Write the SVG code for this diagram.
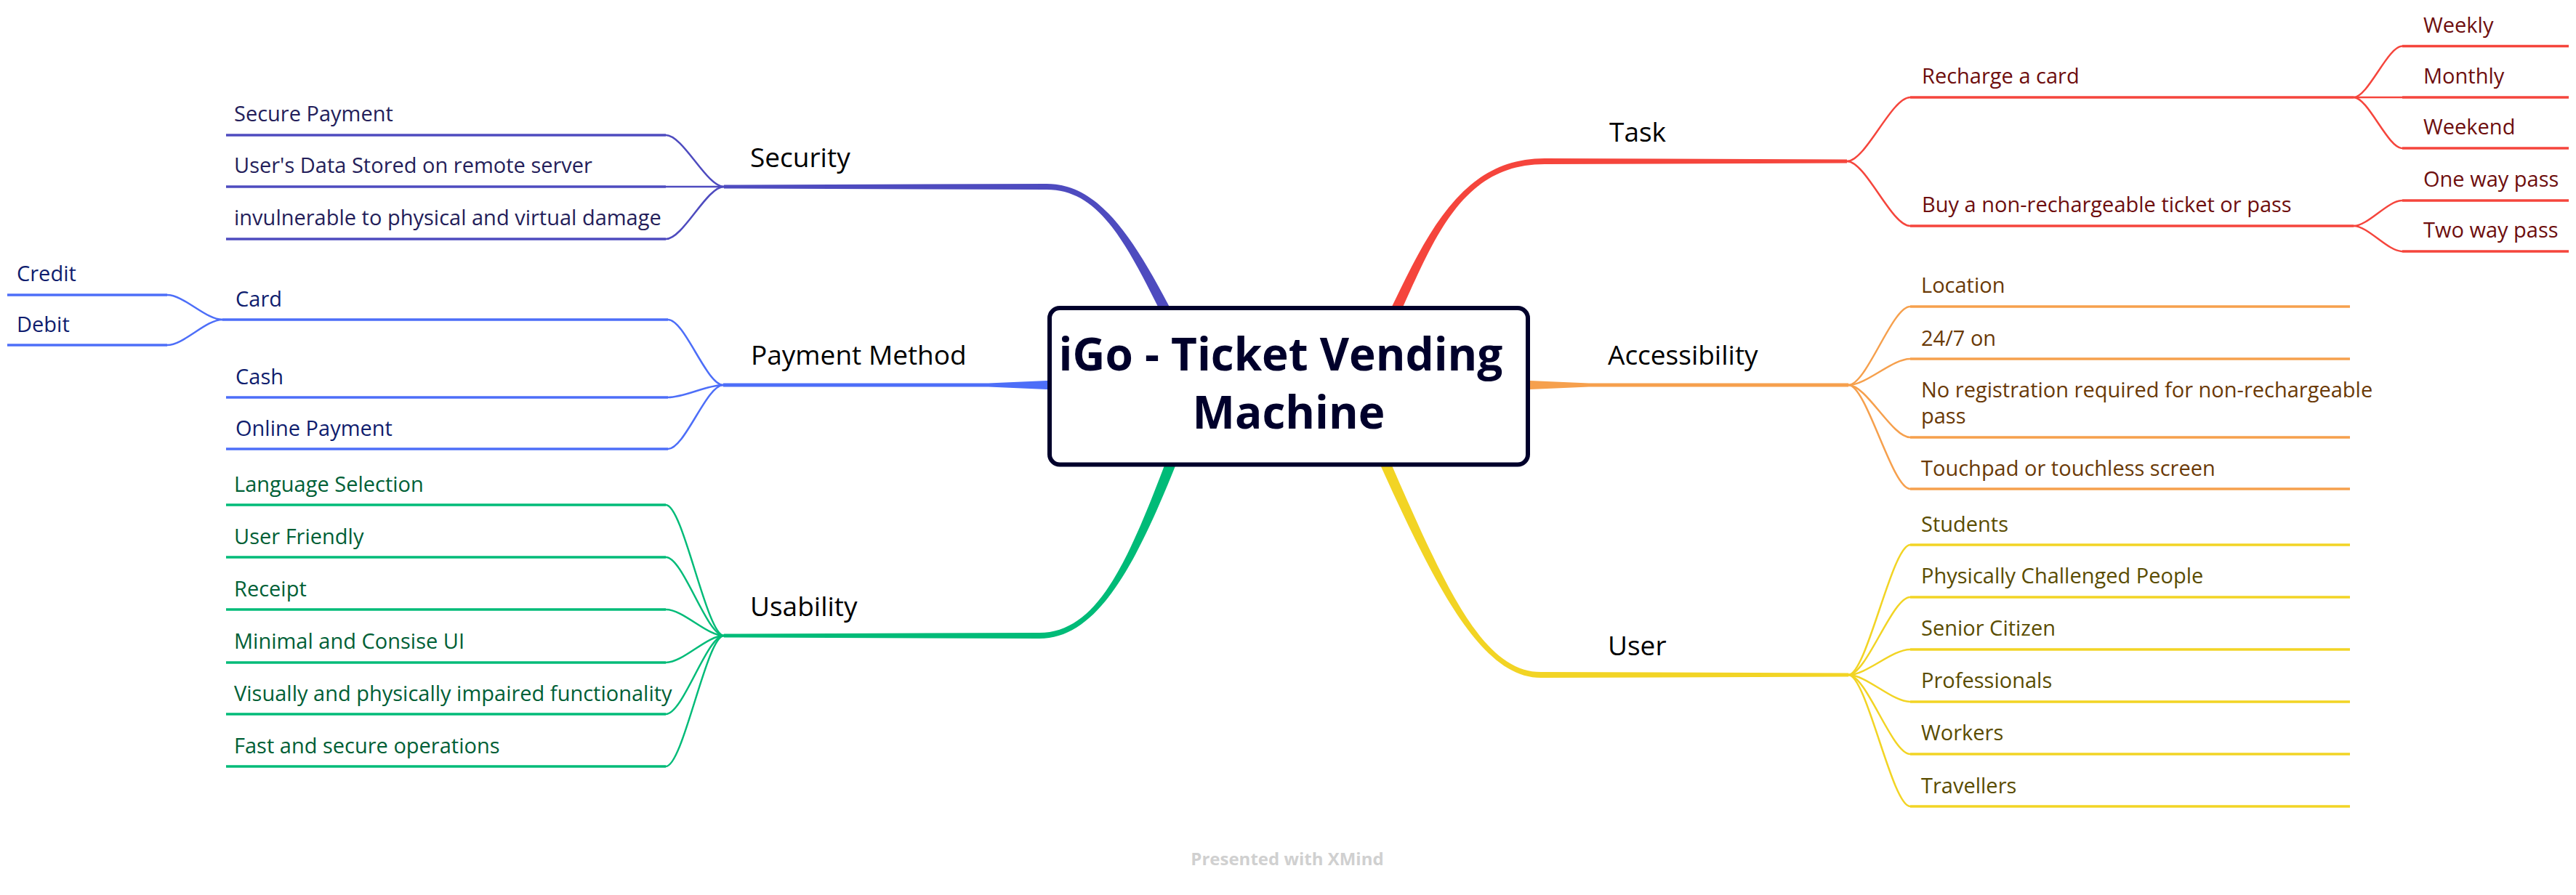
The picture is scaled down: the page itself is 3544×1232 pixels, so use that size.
<svg xmlns="http://www.w3.org/2000/svg" width="3544" height="1232" viewBox="0 0 3544 1232">
<style>
text{font-family:"Open Sans","Noto Sans","Liberation Sans",sans-serif}
.lbl{font-size:29px}
.main{font-size:37px;fill:#000}
.title{font-size:62px;font-weight:700;fill:#00002b}
.wm{font-size:24px;font-weight:700;fill:#d0d0d0}
.ul{fill:none;stroke-width:3.5;stroke-linecap:butt}
.cn{fill:none;stroke-width:2.5}
.sec{stroke:#4e4bbf}.pay{stroke:#4d6ef8}.use{stroke:#00bb78}.task{stroke:#f5453c}.acc{stroke:#f6a04d}.usr{stroke:#f2d424}
.tsec{fill:#241e5a}.tpay{fill:#0f1d6e}.tuse{fill:#005f36}.ttask{fill:#6e0e0e}.tacc{fill:#6a3906}.tusr{fill:#5a4c00}
</style>
<rect width="3544" height="1232" fill="#fff"/>
<g id="connectors">
  <path fill="#4e4bbf" d="M1636.7,476.6 C1569.3,342.9 1520,253 1440,253 L996,254.5 L996,259.5 L1440,261 C1520,261 1556.7,349.1 1623.3,483.4 Z"/>
  <path fill="#4d6ef8" d="M1500,523 L1440,524 L1360,527.5 L995,527.5 L995,532.5 L1360,532.5 L1440,536 L1500,537 Z"/>
  <path fill="#00bb78" d="M1626,577.3 C1562.5,745.5 1520,871 1430,871 L996,872.5 L996,877.5 L1430,879 C1520,879 1575.5,750.5 1640,582.7 Z"/>
  <path fill="#f5453c" d="M1901.7,483.4 C1964.3,358.2 1995,226 2125,226 L2541,224.5 L2541,219.5 L2125,218 C1995,218 1951.8,351.9 1888.3,476.6 Z"/>
  <path fill="#f6a04d" d="M2050,523 L2105,524 L2186,527.5 L2543,527.5 L2543,532.5 L2186,532.5 L2105,536 L2050,537 Z"/>
  <path fill="#f2d424" d="M1873.2,583.1 C1963.6,783.9 2030,933 2120,933 L2543,931.5 L2543,926.5 L2120,925 C2030,925 1976.4,778.1 1886.8,576.9 Z"/>
  <path class="cn sec" d="M916,186 C940,186 972,257 996,257"/>
  <path class="cn sec" d="M916,257 L996,257"/>
  <path class="cn sec" d="M916,329 C940,329 972,257 996,257"/>
  <path class="cn pay" d="M919,440 C942,440 972,530 995,530"/>
  <path class="cn pay" d="M919,547 C942,547 972,530 995,530"/>
  <path class="cn pay" d="M919,618 C942,618 972,530 995,530"/>
  <path class="cn pay" d="M230,406 C253,406 283,440 306,440"/>
  <path class="cn pay" d="M230,475 C253,475 283,440 306,440"/>
  <path class="cn use" d="M916,695 C940,695 972,875 996,875"/>
  <path class="cn use" d="M916,767 C940,767 972,875 996,875"/>
  <path class="cn use" d="M916,839 C940,839 972,875 996,875"/>
  <path class="cn use" d="M916,912 C940,912 972,875 996,875"/>
  <path class="cn use" d="M916,983 C940,983 972,875 996,875"/>
  <path class="cn use" d="M916,1055 C940,1055 972,875 996,875"/>
  <path class="cn task" d="M2541,222 C2567,222 2602,134 2628,134"/>
  <path class="cn task" d="M2541,222 C2567,222 2602,311 2628,311"/>
  <path class="cn task" d="M3238,134 C3258,134 3285,63.5 3305,63.5"/>
  <path class="cn task" d="M3238,134 L3305,134"/>
  <path class="cn task" d="M3238,134 C3258,134 3285,204 3305,204"/>
  <path class="cn task" d="M3238,311 C3258,311 3285,276 3305,276"/>
  <path class="cn task" d="M3238,311 C3258,311 3285,346 3305,346"/>
  <path class="cn acc" d="M2543,530 C2568,530 2603,422 2628,422"/>
  <path class="cn acc" d="M2543,530 C2568,530 2603,494 2628,494"/>
  <path class="cn acc" d="M2543,530 C2568,530 2603,602 2628,602"/>
  <path class="cn acc" d="M2543,530 C2568,530 2603,673 2628,673"/>
  <path class="cn usr" d="M2543,929 C2568,929 2603,750 2628,750"/>
  <path class="cn usr" d="M2543,929 C2568,929 2603,822 2628,822"/>
  <path class="cn usr" d="M2543,929 C2568,929 2603,894 2628,894"/>
  <path class="cn usr" d="M2543,929 C2568,929 2603,966 2628,966"/>
  <path class="cn usr" d="M2543,929 C2568,929 2603,1038 2628,1038"/>
  <path class="cn usr" d="M2543,929 C2568,929 2603,1110 2628,1110"/>
</g>

<g id="central">
  <rect x="1444" y="424" width="658" height="215.5" rx="14" fill="#fff" stroke="#00002b" stroke-width="6"/>
  <text class="title" x="1762" y="510" text-anchor="middle">iGo - Ticket Vending</text>
  <text class="title" x="1773" y="590" text-anchor="middle">Machine</text>
</g>

<g id="security"><text class="main" x="1032" y="230">Security</text></g>
<g id="payment"><text class="main" x="1033" y="502">Payment Method</text></g>
<g id="usability"><text class="main" x="1032" y="848">Usability</text></g>
<g id="task"><text class="main" x="2214" y="195">Task</text></g>
<g id="accessibility"><text class="main" x="2212" y="502">Accessibility</text></g>
<g id="user"><text class="main" x="2212" y="902">User</text></g>

<g id="sec-1"><path class="ul sec" d="M311,186 H916"/><text class="lbl tsec" x="322" y="167">Secure Payment</text></g>
<g id="sec-2"><path class="ul sec" d="M311,257 H916"/><text class="lbl tsec" x="322" y="238">User's Data Stored on remote server</text></g>
<g id="sec-3"><path class="ul sec" d="M311,329 H916"/><text class="lbl tsec" x="322" y="310">invulnerable to physical and virtual damage</text></g>

<g id="pay-card"><path class="ul pay" d="M306,440 H919"/><text class="lbl tpay" x="324" y="422">Card</text></g>
<g id="pay-credit"><path class="ul pay" d="M10,406 H230"/><text class="lbl tpay" x="23" y="387">Credit</text></g>
<g id="pay-debit"><path class="ul pay" d="M10,475 H230"/><text class="lbl tpay" x="23" y="457">Debit</text></g>
<g id="pay-cash"><path class="ul pay" d="M311,547 H919"/><text class="lbl tpay" x="324" y="529">Cash</text></g>
<g id="pay-online"><path class="ul pay" d="M311,618 H919"/><text class="lbl tpay" x="324" y="600">Online Payment</text></g>

<g id="use-1"><path class="ul use" d="M311,695 H916"/><text class="lbl tuse" x="322" y="677">Language Selection</text></g>
<g id="use-2"><path class="ul use" d="M311,767 H916"/><text class="lbl tuse" x="322" y="749">User Friendly</text></g>
<g id="use-3"><path class="ul use" d="M311,839 H916"/><text class="lbl tuse" x="322" y="821">Receipt</text></g>
<g id="use-4"><path class="ul use" d="M311,912 H916"/><text class="lbl tuse" x="322" y="893">Minimal and Consise UI</text></g>
<g id="use-5"><path class="ul use" d="M311,983 H916"/><text class="lbl tuse" x="322" y="965">Visually and physically impaired functionality</text></g>
<g id="use-6"><path class="ul use" d="M311,1055 H916"/><text class="lbl tuse" x="322" y="1037">Fast and secure operations</text></g>

<g id="task-recharge"><path class="ul task" d="M2628,134 H3238"/><text class="lbl ttask" x="2644" y="115">Recharge a card</text></g>
<g id="task-buy"><path class="ul task" d="M2628,311 H3238"/><text class="lbl ttask" x="2644" y="292">Buy a non-rechargeable ticket or pass</text></g>
<g id="task-weekly"><path class="ul task" d="M3305,63.5 H3534"/><text class="lbl ttask" x="3334" y="45">Weekly</text></g>
<g id="task-monthly"><path class="ul task" d="M3305,134 H3534"/><text class="lbl ttask" x="3334" y="115">Monthly</text></g>
<g id="task-weekend"><path class="ul task" d="M3305,204 H3534"/><text class="lbl ttask" x="3334" y="185">Weekend</text></g>
<g id="task-oneway"><path class="ul task" d="M3305,276 H3534"/><text class="lbl ttask" x="3334" y="257">One way pass</text></g>
<g id="task-twoway"><path class="ul task" d="M3305,346 H3534"/><text class="lbl ttask" x="3334" y="327">Two way pass</text></g>

<g id="acc-1"><path class="ul acc" d="M2628,422 H3233"/><text class="lbl tacc" x="2643" y="403">Location</text></g>
<g id="acc-2"><path class="ul acc" d="M2628,494 H3233"/><text class="lbl tacc" x="2643" y="476">24/7 on</text></g>
<g id="acc-3"><path class="ul acc" d="M2628,602 H3233"/><text class="lbl tacc" x="2643" y="547">No registration required for non-rechargeable</text><text class="lbl tacc" x="2643" y="583">pass</text></g>
<g id="acc-4"><path class="ul acc" d="M2628,673 H3233"/><text class="lbl tacc" x="2643" y="655">Touchpad or touchless screen</text></g>

<g id="usr-1"><path class="ul usr" d="M2628,750 H3233"/><text class="lbl tusr" x="2643" y="732">Students</text></g>
<g id="usr-2"><path class="ul usr" d="M2628,822 H3233"/><text class="lbl tusr" x="2643" y="803">Physically Challenged People</text></g>
<g id="usr-3"><path class="ul usr" d="M2628,894 H3233"/><text class="lbl tusr" x="2643" y="875">Senior Citizen</text></g>
<g id="usr-4"><path class="ul usr" d="M2628,966 H3233"/><text class="lbl tusr" x="2643" y="947">Professionals</text></g>
<g id="usr-5"><path class="ul usr" d="M2628,1038 H3233"/><text class="lbl tusr" x="2643" y="1019">Workers</text></g>
<g id="usr-6"><path class="ul usr" d="M2628,1110 H3233"/><text class="lbl tusr" x="2643" y="1092">Travellers</text></g>

<text class="wm" x="1771" y="1191" text-anchor="middle">Presented with XMind</text>
</svg>
